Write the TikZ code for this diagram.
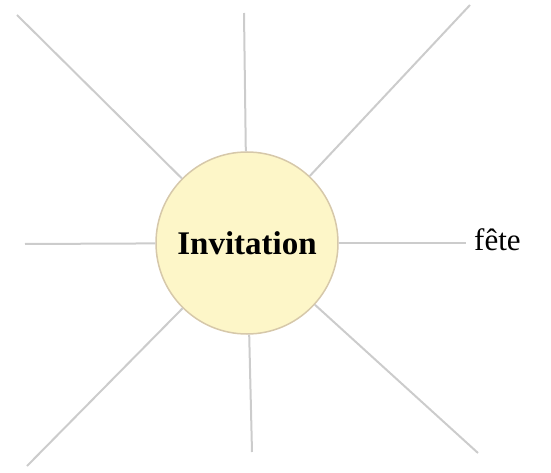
\documentclass[tikz,border=0pt]{standalone}
\usepackage{fontspec}
\setmainfont{Liberation Serif}
\usepackage{xcolor}
\usetikzlibrary{positioning}

\definecolor{spokegray}{RGB}{204,204,204}
\definecolor{hubfill}{RGB}{253,246,200}
\definecolor{hubdraw}{RGB}{214,200,170}

\begin{document}
\begin{tikzpicture}[
    x=1pt, y=-1pt,
    hub/.style={circle, draw=hubdraw, line width=1.5pt, fill=hubfill, minimum size=182pt, inner sep=0pt, font=\fontsize{33}{36}\selectfont\bfseries},
    word/.style={font=\fontsize{31}{34}\selectfont, inner sep=2pt},
    line/.style={draw=spokegray, line width=2pt}
]
    \useasboundingbox (0,0) rectangle (551,473);

    % Centre
    \node [hub] (inv) at (247,243) {Invitation};
    \node [word, anchor=west] (fete) at (472,240) {f\^ete};

    % Free ends of the spokes
    \coordinate (nw) at (17,15);
    \coordinate (n) at (244,13);
    \coordinate (ne) at (470,5);
    \coordinate (w) at (25,244);
    \coordinate (sw) at (27,466);
    \coordinate (s) at (252,452);
    \coordinate (se) at (478,453);

    % Spokes
    \path [line] (inv) -- (nw);
    \path [line] (inv) -- (n);
    \path [line] (inv) -- (ne);
    \path [line] (inv) -- (w);
    \path [line, shorten >=6pt] (inv.east) -- (inv.east -| fete.west);
    \path [line] (inv) -- (sw);
    \path [line] (inv) -- (s);
    \path [line] (inv) -- (se);

\end{tikzpicture}
\end{document}
